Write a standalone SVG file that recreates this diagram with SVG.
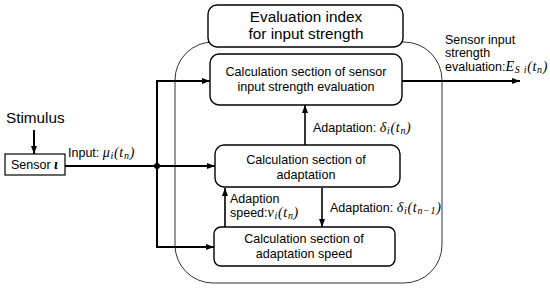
<svg xmlns="http://www.w3.org/2000/svg" width="550" height="289" viewBox="0 0 550 289">
<defs>
<marker id="ah" markerUnits="userSpaceOnUse" markerWidth="8" markerHeight="6" refX="8" refY="3" orient="auto">
<path d="M0,0 L8,3 L0,6 Z" fill="#000"/>
</marker>
<style>
.box{fill:#fff;stroke:#000;stroke-width:1.4}
.t{font-family:"Liberation Sans","DejaVu Sans",sans-serif;font-size:12.5px;fill:#000}
.tc{font-family:"Liberation Sans","DejaVu Sans",sans-serif;font-size:12.6px;fill:#000;text-anchor:middle}
.big{font-size:15.3px}
.m{font-family:"Liberation Serif","DejaVu Serif",serif;font-style:italic;font-size:14px;letter-spacing:0.7px}
.s{font-size:10px}
.ln{fill:none;stroke:#000;stroke-width:2}
.lt{fill:none;stroke:#000;stroke-width:1.6}
</style>
</defs>
<g id="container"><rect x="175" y="42" width="267" height="241" rx="38" ry="38" fill="none" stroke="#333" stroke-width="1"/></g>
<g id="connectors">
<line class="ln" x1="34" y1="130" x2="34" y2="154" marker-end="url(#ah)"/>
<line class="ln" x1="65" y1="166" x2="215" y2="166" marker-end="url(#ah)"/>
<polyline class="ln" points="210,81 157,81 157,247 214,247" marker-end="url(#ah)"/>
<path class="ln" d="M157,81 L210,81" marker-end="url(#ah)"/>
<circle cx="157" cy="166" r="3" fill="#000"/>
<line class="ln" x1="402" y1="81" x2="520" y2="81" marker-end="url(#ah)"/>
<line class="lt" x1="305" y1="145" x2="305" y2="105" marker-end="url(#ah)"/>
<line class="lt" x1="225" y1="227" x2="225" y2="188" marker-end="url(#ah)"/>
<line class="lt" x1="322" y1="188" x2="322" y2="227" marker-end="url(#ah)"/>
</g>
<g id="title"><rect class="box" x="208" y="5" width="195" height="42" rx="9"/>
<text class="tc big" x="306" y="22">Evaluation index</text>
<text class="tc big" x="306" y="39">for input strength</text></g>
<g id="box1"><rect class="box" x="210" y="54" width="192" height="51" rx="9"/>
<text class="tc" x="306" y="76">Calculation section of sensor</text>
<text class="tc" x="306" y="91">input strength evaluation</text></g>
<g id="box2"><rect class="box" x="215" y="145" width="185" height="42" rx="9"/>
<text class="tc" x="306" y="164">Calculation section of</text>
<text class="tc" x="306" y="179">adaptation</text></g>
<g id="box3"><rect class="box" x="214" y="227" width="181" height="39" rx="7"/>
<text class="tc" x="304" y="243">Calculation section of</text>
<text class="tc" x="304" y="258">adaptation speed</text></g>
<g id="sensor"><rect x="5" y="154" width="60" height="21" fill="#fff" stroke="#000" stroke-width="1.2"/>
<text class="t" x="11" y="169">Sensor <tspan class="m" font-weight="bold">ι</tspan></text></g>
<g id="labels">
<text class="t big" x="6" y="123">Stimulus</text>
<text class="t" x="68" y="157">Input: <tspan class="m">μ<tspan class="s" dy="2">i</tspan><tspan dy="-2">(</tspan><tspan>t</tspan><tspan class="s" dy="2">n</tspan><tspan dy="-2">)</tspan></tspan></text>
<text class="t" x="313" y="132">Adaptation: <tspan class="m">δ<tspan class="s" dy="2">i</tspan><tspan dy="-2">(</tspan><tspan>t</tspan><tspan class="s" dy="2">n</tspan><tspan dy="-2">)</tspan></tspan></text>
<text class="t" x="230" y="203">Adaption</text>
<text class="t" x="230" y="217">speed:<tspan class="m">v<tspan class="s" dy="2">i</tspan><tspan dy="-2">(</tspan><tspan>t</tspan><tspan class="s" dy="2">n</tspan><tspan dy="-2">)</tspan></tspan></text>
<text class="t" x="330" y="212">Adaptation: <tspan class="m">δ<tspan class="s" dy="2">i</tspan><tspan dy="-2">(</tspan><tspan>t</tspan><tspan class="s" dy="2">n−1</tspan><tspan dy="-2">)</tspan></tspan></text>
<text class="t" x="445" y="44">Sensor input</text>
<text class="t" x="445" y="57">strength</text>
<text class="t" x="445" y="71">evaluation:<tspan class="m">E<tspan class="s" dy="2">S i</tspan><tspan dy="-2">(</tspan><tspan>t</tspan><tspan class="s" dy="2">n</tspan><tspan dy="-2">)</tspan></tspan></text>
</g>
</svg>
